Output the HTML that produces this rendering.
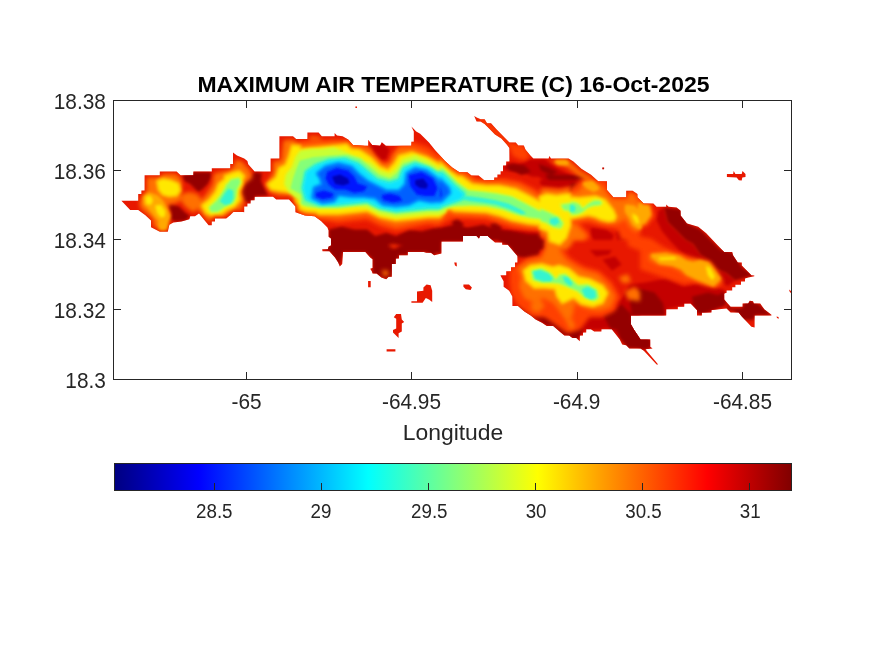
<!DOCTYPE html>
<html lang="en"><head><meta charset="utf-8"><title>Maximum Air Temperature</title>
<style>html,body{margin:0;padding:0;background:#fff}svg{display:block}text{font-family:"Liberation Sans",sans-serif;fill:#262626}</style></head><body>
<svg width="875" height="656" viewBox="0 0 875 656">
<rect width="875" height="656" fill="#fff"/>
<defs>
<linearGradient id="jet" x1="0" x2="1" y1="0" y2="0"><stop offset="0.0000" stop-color="#000080"/><stop offset="0.0312" stop-color="#00009f"/><stop offset="0.0625" stop-color="#0000bf"/><stop offset="0.0938" stop-color="#0000df"/><stop offset="0.1250" stop-color="#0000ff"/><stop offset="0.1562" stop-color="#0020ff"/><stop offset="0.1875" stop-color="#0040ff"/><stop offset="0.2188" stop-color="#0060ff"/><stop offset="0.2500" stop-color="#0080ff"/><stop offset="0.2812" stop-color="#009fff"/><stop offset="0.3125" stop-color="#00bfff"/><stop offset="0.3438" stop-color="#00dfff"/><stop offset="0.3750" stop-color="#00ffff"/><stop offset="0.4062" stop-color="#20ffdf"/><stop offset="0.4375" stop-color="#40ffbf"/><stop offset="0.4688" stop-color="#60ff9f"/><stop offset="0.5000" stop-color="#80ff80"/><stop offset="0.5312" stop-color="#9fff60"/><stop offset="0.5625" stop-color="#bfff40"/><stop offset="0.5938" stop-color="#dfff20"/><stop offset="0.6250" stop-color="#ffff00"/><stop offset="0.6562" stop-color="#ffdf00"/><stop offset="0.6875" stop-color="#ffbf00"/><stop offset="0.7188" stop-color="#ff9f00"/><stop offset="0.7500" stop-color="#ff8000"/><stop offset="0.7812" stop-color="#ff6000"/><stop offset="0.8125" stop-color="#ff4000"/><stop offset="0.8438" stop-color="#ff2000"/><stop offset="0.8750" stop-color="#ff0000"/><stop offset="0.9062" stop-color="#df0000"/><stop offset="0.9375" stop-color="#bf0000"/><stop offset="0.9688" stop-color="#9f0000"/><stop offset="1.0000" stop-color="#800000"/></linearGradient>
<filter id="b1" x="100" y="90" width="700" height="300" filterUnits="userSpaceOnUse"><feGaussianBlur stdDeviation="1.2"/></filter>
<filter id="b2" x="100" y="90" width="700" height="300" filterUnits="userSpaceOnUse"><feGaussianBlur stdDeviation="1.6"/></filter>
<filter id="b3" x="100" y="90" width="700" height="300" filterUnits="userSpaceOnUse"><feGaussianBlur stdDeviation="2.0"/></filter>
<filter id="b4" x="100" y="90" width="700" height="300" filterUnits="userSpaceOnUse"><feGaussianBlur stdDeviation="2.5"/></filter>
<clipPath id="land">
<polygon points="121.4,200.8 138.2,200.8 138.2,193.9 141.4,193.9 141.4,190.4 144.6,190.4 144.6,175.2 159.8,175.2 159.8,171.5 176.6,171.5 180.6,175.2 193.4,175.2 193.4,171.5 211.8,171.5 211.8,168.3 230.2,168.3 230.2,164.0 233.4,164.0 233.0,164.2 233.0,152.5 237.0,155.4 244.2,158.6 247.4,161.0 248.2,164.2 254.6,171.4 270.6,171.4 270.6,158.6 279.4,158.6 279.4,136.2 293.0,136.2 296.2,139.1 307.4,139.1 307.4,132.5 318.6,132.5 321.8,136.2 334.6,136.2 334.6,133.0 337.0,135.4 342.6,136.2 348.2,139.4 353.0,145.0 365.0,145.8 368.2,145.8 368.2,139.7 372.2,145.0 380.2,145.8 381.8,142.3 385.8,145.8 411.4,145.8 411.4,141.8 413.8,141.8 413.8,131.4 411.4,126.6 416.2,131.4 420.2,133.8 429.0,142.6 435.4,150.6 445.0,161.0 452.2,167.4 459.4,172.2 467.4,172.2 471.4,175.4 478.6,175.4 484.2,180.2 494.2,180.0 494.2,177.6 497.4,177.6 497.4,174.4 500.6,174.4 500.6,171.2 503.0,171.2 503.0,165.6 506.2,165.6 506.2,161.6 509.4,161.6 509.4,148.0 507.0,144.8 501.4,138.4 495.0,134.4 489.4,128.8 484.6,124.0 480.6,121.6 476.6,121.6 474.2,116.0 476.6,117.6 480.6,119.2 484.6,119.2 487.0,123.2 491.0,123.2 496.6,129.6 503.0,136.0 509.4,142.4 515.8,142.4 518.2,145.6 523.8,145.6 525.4,149.6 530.2,155.2 533.4,158.4 548.6,158.4 549.4,156.0 551.0,158.4 568.6,158.4 573.4,161.6 581.4,168.8 587.8,172.8 591.0,174.8 598.2,181.2 607.0,181.2 607.0,190.0 613.4,197.2 626.2,197.2 626.2,190.8 632.6,190.8 637.4,194.0 637.4,197.2 643.8,203.6 653.4,203.6 656.6,206.8 666.2,206.8 666.2,204.4 668.6,206.8 676.6,207.6 680.6,210.8 680.6,215.6 687.0,223.6 698.2,226.8 706.2,233.2 717.8,245.6 724.2,252.0 732.2,252.0 733.0,255.2 737.8,262.4 741.8,262.4 741.8,265.6 748.2,272.0 751.4,275.2 754.3,275.5 754.3,276.3 748.2,277.6 745.0,278.4 745.0,281.6 741.0,281.6 741.0,284.8 735.4,284.8 735.4,287.2 732.2,287.2 732.2,290.4 726.6,290.4 726.6,292.8 724.2,293.6 724.2,299.6 730.6,306.8 742.6,306.8 742.6,303.6 748.2,303.6 749.8,300.7 753.0,301.2 753.8,303.6 760.2,303.6 764.2,309.2 771.4,314.8 771.4,315.6 754.6,315.6 754.6,327.6 751.4,326.8 741.8,316.4 738.6,312.4 736.2,312.4 730.6,312.4 726.6,308.4 711.4,310.0 711.4,312.4 701.8,312.4 701.8,315.6 697.0,315.6 697.0,310.0 690.6,303.6 684.2,303.6 684.2,306.8 677.8,306.8 677.8,309.2 665.0,309.2 666.2,309.2 666.2,315.6 631.0,315.6 631.0,324.4 634.2,330.0 637.4,334.8 640.6,339.6 650.2,339.6 650.2,346.8 652.6,348.4 645.4,349.2 658.2,364.4 656.6,364.4 643.8,350.8 640.6,348.4 629.4,348.4 626.2,345.2 622.2,344.4 619.8,339.6 611.8,329.2 601.4,329.2 601.4,331.6 594.2,331.6 591.0,329.2 586.2,329.2 586.2,332.4 583.0,332.4 583.0,335.6 579.8,335.6 579.8,341.2 576.4,338.0 572.4,338.0 569.2,335.6 564.4,335.6 559.6,331.6 553.2,326.0 546.8,326.0 542.0,322.8 535.6,319.6 530.8,315.6 524.4,311.6 518.0,306.0 512.4,306.0 512.4,296.4 509.2,290.8 503.6,286.8 503.6,281.2 500.4,275.6 501.4,275.2 506.2,275.2 506.2,271.2 511.0,271.2 511.0,267.2 515.0,267.2 515.0,262.4 517.4,262.4 517.4,256.0 507.8,244.8 502.2,244.8 502.2,242.4 495.0,242.4 487.8,236.0 479.8,236.0 479.0,238.4 476.6,236.0 463.0,236.0 463.0,241.6 441.4,241.6 441.4,253.6 434.2,255.2 431.0,252.8 423.8,252.8 426.2,252.0 407.8,252.0 407.8,255.2 399.0,255.2 399.0,258.4 395.8,258.4 395.8,264.0 391.8,264.0 391.8,276.8 388.6,276.8 386.2,279.2 381.4,277.6 376.6,273.6 372.6,273.6 371.8,271.2 370.2,268.8 372.6,268.0 372.6,259.2 370.2,257.6 365.4,252.0 343.0,252.0 342.2,264.0 339.8,266.4 338.2,262.4 335.0,257.6 329.4,251.2 322.5,251.2 322.2,249.3 327.8,249.3 328.6,246.4 331.0,245.6 331.0,238.4 328.6,236.8 328.6,230.4 327.4,227.4 321.0,221.0 314.6,216.2 305.0,215.4 295.4,212.2 295.4,206.6 289.0,199.4 276.2,199.4 273.0,196.7 254.6,196.7 254.6,200.2 250.6,200.2 250.6,203.4 247.4,203.4 247.4,206.6 244.2,206.6 244.2,212.2 243.0,212.0 233.4,212.0 230.2,215.2 226.2,218.4 215.0,218.4 215.0,221.6 211.8,221.6 211.8,225.3 208.6,225.3 199.0,213.6 195.0,216.3 190.2,216.3 189.4,219.2 181.4,221.6 173.4,222.4 169.4,224.8 167.8,231.7 159.8,231.7 151.0,227.2 151.0,220.5 145.4,215.2 138.2,209.9 130.2,209.9 121.4,200.8"/>
<polygon points="454.2,262.4 456.6,262.4 456.9,266.4 455.0,265.6"/>
<polygon points="368.1,281.1 370.7,281.1 370.7,287.2 368.1,287.2"/>
<polygon points="411.4,301.2 417.0,301.2 417.0,291.6 423.4,290.8 423.4,287.6 426.6,284.4 430.6,285.2 432.2,290.8 432.2,302.0 429.0,299.6 425.8,298.0 422.6,302.8 411.4,302.8"/>
<polygon points="463.4,284.4 469.0,284.4 471.9,287.6 470.6,290.0 465.8,289.2 463.4,286.8"/>
<polygon points="396.2,314.0 401.0,314.0 401.8,319.6 404.2,322.0 401.8,323.6 401.8,331.6 398.6,333.2 398.6,338.0 393.0,332.4 393.0,330.0 396.2,328.4 396.2,318.8 393.8,317.2"/>
<polygon points="386.6,349.2 395.4,349.2 395.4,351.6 386.6,351.6"/>
<polygon points="726.9,174.0 733.1,174.0 733.7,171.1 735.4,174.0 741.7,174.0 742.5,171.1 745.5,174.0 745.5,176.9 742.3,177.4 741.7,180.6 738.9,180.3 736.6,177.4 726.9,176.9"/>
<polygon points="602.3,167.5 604.1,167.5 604.1,169.3 602.3,169.3"/>
<polygon points="355.4,106.4 357.0,106.4 357.0,108.0 355.4,108.0"/>
<polygon points="789.0,289.5 791.0,291.0 791.0,293.0 789.8,292.0"/>
<polygon points="776.5,316.5 778.5,317.0 778.8,318.8 777.0,318.0"/>
</clipPath>
</defs>
<g clip-path="url(#land)">
<rect x="113" y="100" width="680" height="280" fill="#e81800"/>
<g fill="#c40600" filter="url(#b2)">
<path fill-rule="evenodd" d="M544.6,180.0 570.0,180.0 581.4,180.0 570.2,175.2 557.4,168.8 551.0,164.0 544.6,159.2 540.0,159.2 540.0,177.7Z"/>
<path fill-rule="evenodd" d="M640.0,348.9 645.4,349.2 650.2,346.8 650.2,339.6 640.6,339.6 640.0,338.6Z"/>
<path fill-rule="evenodd" d="M543.6,186.4 559.6,188.0 570.0,187.1 570.0,180.0 540.0,180.0 540.0,184.0Z"/>
<path fill-rule="evenodd" d="M640.0,320.0 640.0,302.8 624.8,301.2 612.0,307.6 602.4,310.8 589.6,314.0 596.0,320.4 599.2,328.4 610.4,328.4 626.4,342.8 640.0,347.6Z"/>
<path fill-rule="evenodd" d="M621.6,264.4 615.2,256.4 602.4,259.6 612.0,270.8Z"/>
<path fill-rule="evenodd" d="M608.8,254.8 612.0,250.0 589.6,250.0 596.0,256.4Z"/>
<path fill-rule="evenodd" d="M389.6,149.6 383.2,143.2 368.8,144.8 373.6,154.4 380.0,160.8 386.4,159.2Z"/>
<path fill-rule="evenodd" d="M440.0,227.9 440.0,240.0 540.0,240.0 540.0,231.0Z"/>
<path fill-rule="evenodd" d="M593.8,240.0 612.1,240.0 613.9,234.9 606.6,229.4 591.0,227.5 590.1,234.9Z"/>
<path fill-rule="evenodd" d="M624.9,240.0 626.7,234.9 623.0,229.4 615.7,231.2 617.5,240.0Z"/>
<path fill-rule="evenodd" d="M656.5,220.1 661.9,231.1 671.1,242.1 680.2,251.2 689.4,258.5 700.3,267.7 709.5,273.1 718.6,280.5 727.8,285.9 735.1,280.5 725.9,273.1 716.8,269.5 709.5,260.3 700.3,254.9 693.0,243.9 685.7,240.2 676.6,231.1 667.4,221.9 663.8,207.3 658.3,211.0Z"/>
<path fill-rule="evenodd" d="M640.0,315.2 665.6,315.2 665.6,309.7 658.3,306.1 651.0,295.1 640.0,287.8Z"/>
<path fill-rule="evenodd" d="M667.4,298.7 676.6,304.2 687.5,302.4 680.2,291.4 667.4,287.8Z"/>
<polygon points="503.0,167.2 510.2,162.4 519.0,164.0 530.2,159.2 544.6,159.2 551.0,164.0 557.4,168.8 570.2,175.2 581.4,180.0 587.8,184.8 583.0,189.6 567.0,183.2 554.2,181.6 544.6,180.0 538.2,176.8 531.8,176.8 525.4,173.6 519.0,172.0 511.0,170.4 504.6,170.4"/>
<polygon points="607.3,307.0 621.7,298.8 629.9,284.4 646.4,282.3 667.0,278.2 683.4,286.5 704.0,282.3 724.6,290.6 724.6,305.0 712.2,311.1 701.9,315.3 695.8,311.1 691.7,303.9 667.0,309.1 664.9,315.3 632.0,315.3 632.0,323.5 621.7,331.7"/>
<polygon points="560.0,307.0 572.3,311.1 584.7,305.0 601.1,311.1 611.4,321.4 601.1,329.7 584.7,329.7 578.5,337.9 560.0,331.7"/>
</g>
<g fill="#940000" filter="url(#b2)">
<path fill-rule="evenodd" d="M211.0,177.6 211.0,172.0 193.4,172.0 182.2,175.2 183.8,180.8 190.2,184.0 195.0,188.8 198.2,192.0 202.2,189.6 207.8,184.0Z"/>
<path fill-rule="evenodd" d="M185.4,212.8 179.0,206.4 169.4,203.2 167.8,208.0 171.0,212.8 170.2,219.2 175.8,221.6 185.4,220.8 190.2,216.0Z"/>
<path fill-rule="evenodd" d="M243.0,188.8 243.0,198.4 247.8,202.4 251.0,201.6 255.0,198.4 255.0,184.0 251.0,184.0Z"/>
<path fill-rule="evenodd" d="M261.8,173.0 254.6,172.2 245.8,181.0 239.4,189.0 244.2,201.8 250.6,200.2 254.6,196.2 268.2,195.4 265.0,189.0 261.0,181.0Z"/>
<path fill-rule="evenodd" d="M541.4,170.4 551.0,175.2 557.4,172.0 547.8,167.2 540.0,164.6 540.0,167.6Z"/>
<path fill-rule="evenodd" d="M640.0,348.9 645.4,349.2 650.2,346.8 650.2,339.6 640.6,339.6 640.0,338.6Z"/>
<path fill-rule="evenodd" d="M435.0,253.1 441.4,253.6 441.4,241.6 463.0,241.6 463.0,240.0 440.0,240.0 440.0,245.0 435.0,245.0Z"/>
<path fill-rule="evenodd" d="M589.6,175.0 544.8,175.0 548.8,180.0 570.0,180.0 581.6,180.0 583.2,179.8Z"/>
<path fill-rule="evenodd" d="M545.2,240.8 540.0,237.8 540.0,240.0 497.1,240.0 498.8,240.8 510.0,247.2 512.3,250.0 543.9,250.0Z"/>
<path fill-rule="evenodd" d="M517.6,256.4 527.2,258.0 538.4,256.4 540.0,250.0 511.2,250.0Z"/>
<path fill-rule="evenodd" d="M568.8,335.6 572.0,338.0 578.4,341.2 578.4,336.4 583.2,330.0 575.2,325.2 565.6,322.0 554.4,317.2 543.2,314.0 532.0,312.4 524.0,304.4 517.6,306.0 524.0,310.8 535.2,318.8 546.4,325.2 552.8,326.0 564.0,335.6Z"/>
<path fill-rule="evenodd" d="M631.2,320.4 631.2,314.0 621.6,304.4 612.0,310.8 602.4,314.0 610.4,328.4 618.4,330.0 626.4,342.8 640.0,347.6 640.0,330.0Z"/>
<path fill-rule="evenodd" d="M339.8,266.4 343.0,252.0 365.4,252.0 372.6,259.2 372.6,273.6 386.2,279.2 391.8,276.8 395.8,264.0 399.0,255.2 407.8,255.2 407.8,252.0 426.2,252.0 435.0,256.8 435.0,245.0 403.3,245.0 394.2,248.0 388.1,245.0 330.9,245.0 331.0,245.6 322.2,249.3 329.4,251.2Z"/>
<path fill-rule="evenodd" d="M440.0,226.4 421.6,231.2 408.8,229.6 396.0,236.0 386.4,232.8 375.2,236.0 367.2,229.6 354.4,229.6 341.6,226.4 328.8,229.6 328.8,245.0 440.0,245.0 440.0,240.0Z"/>
<path fill-rule="evenodd" d="M528.0,234.2 512.0,231.0 496.0,229.4 483.2,224.6 467.2,227.8 454.4,224.6 441.6,227.8 440.0,228.2 440.0,240.0 540.0,240.0 540.0,234.2Z"/>
<path fill-rule="evenodd" d="M457.6,218.2 451.2,221.4 457.6,231.0 464.0,224.6Z"/>
<path fill-rule="evenodd" d="M496.0,221.4 489.6,224.6 496.0,234.2 502.4,227.8Z"/>
<path fill-rule="evenodd" d="M531.2,171.8 524.8,165.4 512.0,163.8 512.0,170.2 521.6,175.0Z"/>
<path fill-rule="evenodd" d="M577.3,191.9 580.1,187.3 575.5,182.7 570.0,183.7 570.0,192.8Z"/>
<path fill-rule="evenodd" d="M667.4,221.9 676.6,231.1 685.7,240.2 693.0,243.9 700.3,254.9 709.5,260.3 716.8,269.5 725.9,273.1 735.1,280.5 742.4,278.6 753.4,275.0 742.4,267.7 733.3,253.0 720.5,249.4 700.3,229.3 687.5,223.8 680.2,209.1 663.8,207.3Z"/>
<path fill-rule="evenodd" d="M700.3,309.7 724.1,306.1 725.9,302.4 724.1,291.4 718.6,295.1 709.5,298.7 700.3,298.7 691.2,304.2Z"/>
<path fill-rule="evenodd" d="M727.8,309.7 735.1,311.5 742.4,320.0 753.4,320.0 755.2,315.2 771.7,315.2 758.9,304.2 749.7,300.6 744.2,302.4 742.4,307.9 731.4,307.9 725.9,302.4Z"/>
<polygon points="506.2,165.6 512.6,164.0 522.2,167.2 525.4,172.0 519.0,172.8 509.4,170.4"/>
<polygon points="538.2,164.0 547.8,167.2 557.4,172.0 551.0,175.2 541.4,170.4"/>
<polygon points="638.2,288.5 654.6,292.6 662.9,302.9 664.9,315.3 632.0,315.3 629.9,300.9"/>
<polygon points="691.7,296.7 708.1,292.6 724.6,296.7 724.6,305.0 701.9,314.2 695.8,311.1"/>
<polygon points="611.4,311.1 629.9,315.3 632.0,323.5 650.5,339.9 650.5,348.2 627.9,348.2 619.7,337.9"/>
<polygon points="601.7,166.9 604.7,166.9 604.7,169.9 601.7,169.9"/>
</g>
<g fill="#ff4000" filter="url(#b3)">
<path fill-rule="evenodd" d="M474.2,116.0 480.6,121.6 495.0,134.4 495.6,135.0 502.0,135.0 496.6,129.6 484.6,119.2Z"/>
<path fill-rule="evenodd" d="M586.5,180.0 595.2,180.0 591.0,177.2 581.4,172.4Z"/>
<path fill-rule="evenodd" d="M627.8,240.0 627.8,246.0 635.8,249.2 637.1,250.0 640.0,250.0 640.0,240.0Z"/>
<path fill-rule="evenodd" d="M628.8,240.0 631.6,242.8 640.0,244.0 640.0,240.0Z"/>
<path fill-rule="evenodd" d="M556.0,325.2 567.2,333.2 580.0,330.0 589.6,317.2 602.4,317.2 615.2,310.8 620.0,296.4 612.0,282.0 599.2,270.8 583.2,266.0 570.4,258.0 564.0,250.0 543.2,250.0 541.6,254.8 527.2,258.0 519.2,264.4 509.6,269.2 509.6,282.0 511.2,294.8 519.2,307.6 532.0,317.2 544.8,317.2Z"/>
<path fill-rule="evenodd" d="M300.0,200.0 295.0,200.0 295.0,208.8 300.0,212.6Z"/>
<path fill-rule="evenodd" d="M394.2,248.0 398.0,245.0 388.1,245.0Z"/>
<path fill-rule="evenodd" d="M338.4,223.2 352.8,221.6 367.2,220.0 380.0,226.4 396.0,231.2 412.0,228.0 428.0,224.8 440.0,226.4 440.0,156.0 428.0,146.4 412.0,141.6 399.2,144.8 394.4,152.8 390.4,163.2 383.2,165.6 376.8,159.2 370.4,151.2 364.0,140.0 300.0,140.0 300.0,215.2 306.4,218.4 319.2,220.0Z"/>
<path fill-rule="evenodd" d="M470.4,219.0 486.4,219.8 499.2,223.8 512.0,227.8 528.0,230.2 540.0,231.0 540.0,192.6 532.8,187.8 520.0,181.4 504.0,178.2 491.2,179.0 476.8,178.2 467.2,171.8 454.4,159.0 440.0,148.9 440.0,224.0 441.6,223.8 454.4,218.2Z"/>
<path fill-rule="evenodd" d="M588.3,223.0 606.6,227.5 617.5,229.4 621.2,240.0 640.0,240.0 640.0,200.0 645.4,200.0 637.7,193.7 626.7,191.0 626.7,196.5 613.9,197.4 608.4,191.0 606.6,180.0 581.0,180.0 570.0,189.1 570.0,223.9Z"/>
<path fill-rule="evenodd" d="M588.3,240.0 590.1,234.9 579.1,223.0 570.0,223.0 570.0,240.0Z"/>
<path fill-rule="evenodd" d="M640.0,269.5 651.0,273.1 661.9,276.8 672.9,280.5 683.9,284.1 694.9,282.3 705.8,285.9 716.8,287.8 724.1,282.3 713.1,273.1 702.2,262.2 691.2,256.7 676.6,253.0 661.9,245.7 651.0,238.4 640.0,236.6Z"/>
<path fill-rule="evenodd" d="M640.0,227.4 647.3,225.6 654.6,216.5 651.0,203.7 640.0,200.0Z"/>
<polygon points="474.2,116.0 484.6,119.2 496.6,129.6 509.4,142.4 523.8,145.6 530.2,155.2 525.4,160.8 519.0,159.2 512.6,156.0 509.4,148.0 495.0,134.4 480.6,121.6"/>
</g>
<g fill="#ff7000" filter="url(#b3)">
<path fill-rule="evenodd" d="M169.4,212.8 167.8,204.8 175.8,203.2 182.2,200.0 180.6,193.6 182.2,185.6 180.6,177.6 180.3,177.4 180.2,177.4 180.0,177.3 179.8,177.2 179.6,177.2 179.4,177.1 179.3,177.0 179.1,176.8 175.7,173.7 162.0,173.7 162.0,175.2 162.0,175.4 162.0,175.6 161.9,175.8 161.8,176.0 161.7,176.2 161.6,176.4 161.5,176.6 161.4,176.8 161.2,176.9 161.0,177.0 160.8,177.1 160.6,177.2 160.4,177.3 160.2,177.4 160.0,177.4 159.8,177.4 146.9,177.4 146.8,177.4 146.8,190.4 146.8,190.6 146.8,190.8 146.7,191.0 146.6,191.2 146.5,191.4 146.4,191.6 146.3,191.8 146.2,192.0 146.0,192.1 145.8,192.2 145.6,192.3 145.4,192.4 145.2,192.5 145.0,192.6 144.8,192.6 144.8,192.6 143.6,193.8 143.6,193.9 143.6,194.1 143.6,194.3 143.5,194.6 143.4,194.8 143.3,195.0 143.2,195.1 143.1,195.3 143.0,195.5 142.8,195.6 142.6,195.7 142.4,195.9 142.2,196.0 142.0,196.0 141.8,196.1 141.8,196.1 140.4,199.0 140.4,200.8 140.4,201.0 140.4,201.2 140.3,201.4 140.2,201.6 140.1,201.8 140.0,202.0 139.9,202.2 139.8,202.4 139.6,202.5 139.4,202.6 139.2,202.7 139.2,202.7 140.6,208.0 144.2,211.6 146.7,213.4 146.9,213.6 152.5,218.9 152.7,219.0 152.8,219.2 152.9,219.4 153.0,219.6 153.1,219.8 153.2,220.0 153.2,220.3 153.2,220.5 153.2,225.9 160.3,229.5 166.1,229.5 167.3,224.3 167.3,224.1 167.4,223.9 167.5,223.7 167.6,223.5 167.8,223.3 167.9,223.2 168.1,223.0 168.3,222.9 169.4,222.2Z"/>
<path fill-rule="evenodd" d="M182.2,193.6 182.2,203.2 187.0,208.0 193.4,212.8 198.2,208.0 201.4,200.0 198.2,194.4 190.2,192.0Z"/>
<path fill-rule="evenodd" d="M242.0,208.8 242.0,206.6 242.0,206.4 242.0,206.2 242.1,206.0 242.2,205.8 242.3,205.6 242.4,205.4 242.5,205.2 242.6,205.0 242.8,204.9 243.0,204.8 243.2,204.7 243.4,204.6 243.5,204.5 244.6,201.6 241.4,192.0 244.6,184.0 252.6,177.6 249.4,169.6 243.0,163.2 235.1,164.5 235.1,164.6 235.0,164.8 234.9,165.0 234.8,165.2 234.7,165.4 234.6,165.6 234.4,165.7 234.2,165.8 234.0,165.9 233.8,166.0 233.6,166.1 233.4,166.2 233.2,166.2 233.0,166.2 232.5,166.2 232.4,166.3 232.4,168.3 232.4,168.5 232.4,168.7 232.3,169.0 232.2,169.2 232.1,169.4 232.0,169.5 231.9,169.7 231.8,169.9 231.6,170.0 231.4,170.1 231.2,170.3 231.0,170.4 230.8,170.4 230.6,170.5 230.4,170.5 230.2,170.5 226.5,170.5 214.2,173.6 212.6,184.0 207.8,192.0 201.4,200.0 197.4,208.0 199.6,211.5 199.6,211.5 199.8,211.6 200.0,211.7 200.2,211.8 200.4,211.9 200.6,212.0 200.7,212.2 209.6,223.0 209.6,221.6 209.6,221.4 209.6,221.2 209.7,221.0 209.8,220.8 209.9,220.6 210.0,220.4 210.1,220.2 210.2,220.0 210.4,219.9 210.6,219.8 210.8,219.7 211.0,219.6 211.2,219.5 211.4,219.4 211.6,219.4 211.8,219.4 212.8,219.4 212.8,218.4 212.8,218.2 212.8,218.0 212.9,217.8 213.0,217.6 213.1,217.4 213.2,217.2 213.3,217.0 213.4,216.8 213.6,216.7 213.8,216.6 214.0,216.5 214.2,216.4 214.4,216.3 214.6,216.2 214.8,216.2 215.0,216.2 225.4,216.2 228.7,213.6 231.8,210.4 232.0,210.3 232.2,210.2 232.4,210.1 232.6,210.0 232.8,209.9 233.0,209.8 233.2,209.8 233.4,209.8 241.6,209.8Z"/>
<path fill-rule="evenodd" d="M297.0,142.6 295.6,141.2 295.5,141.2 295.3,141.1 295.1,141.0 294.9,140.9 294.7,140.7 293.3,139.4 283.4,140.2 281.6,155.2 281.6,158.6 281.6,158.8 281.6,159.0 281.5,159.2 281.4,159.4 281.3,159.6 281.2,159.8 281.1,160.0 281.0,160.1 281.0,160.2 280.9,160.2 280.8,160.3 280.6,160.4 280.4,160.5 280.2,160.6 280.0,160.7 279.8,160.8 279.6,160.8 279.4,160.8 278.0,160.8 273.0,161.8 273.0,173.0 265.0,184.2 269.8,192.2 277.8,195.4 289.0,195.4 295.0,200.2 295.0,200.0 300.0,200.0 300.0,142.4Z"/>
<path fill-rule="evenodd" d="M325.4,140.0 339.8,140.0 333.8,139.4Z"/>
<path fill-rule="evenodd" d="M319.4,137.0 309.8,136.2 309.6,136.9 309.6,139.1 309.6,139.3 309.6,139.5 309.5,139.7 309.4,139.9 309.4,140.0 322.4,140.0Z"/>
<path fill-rule="evenodd" d="M245.8,166.6 242.6,161.8 235.4,159.4 235.2,159.9 235.2,164.0 235.2,164.2 235.2,164.4 235.1,164.6 235.0,164.8 234.9,165.0 234.8,165.2 234.7,165.4 234.6,165.6 234.4,165.7 234.2,165.8 234.0,165.9 233.8,166.0 233.6,166.1 233.4,166.2 233.2,166.2 233.0,166.2 232.8,166.2 232.4,167.2 232.4,168.3 232.4,168.5 232.4,168.7 232.3,169.0 232.2,169.2 232.1,169.4 232.0,169.5 231.9,169.7 231.8,169.9 231.6,170.0 231.4,170.1 231.2,170.3 231.0,170.4 230.8,170.4 230.6,170.5 230.4,170.5 230.2,170.5 230.0,170.5 225.0,173.0 225.0,211.4 229.8,209.8 239.4,206.6 242.6,197.0 241.0,187.4 245.8,179.4 250.6,173.0Z"/>
<path fill-rule="evenodd" d="M567.0,167.2 573.4,172.0 579.8,176.8 585.1,180.0 593.5,180.0 589.7,176.6 586.6,174.7 580.2,170.7 580.1,170.6 579.9,170.4 572.0,163.3 567.9,160.6 551.0,160.6 550.8,160.6 550.6,160.6 550.5,160.5 551.0,161.6 559.0,164.0Z"/>
<path fill-rule="evenodd" d="M572.4,244.0 573.0,240.0 570.0,240.0 570.0,187.0 559.6,189.6 543.6,188.0 540.0,189.8 540.0,235.4 545.2,237.6 545.2,250.0 566.4,250.0Z"/>
<path fill-rule="evenodd" d="M559.2,310.8 565.6,320.4 572.0,317.2 575.2,302.8 580.0,306.0 588.0,309.2 599.2,310.8 610.4,307.6 615.2,296.4 608.8,285.2 597.6,274.0 584.8,270.8 575.2,266.0 565.6,259.6 559.2,250.0 544.8,250.0 541.6,258.0 527.2,261.2 517.6,267.6 520.8,277.2 519.2,286.8 524.0,298.0 533.6,302.8 543.2,298.0 552.8,302.8Z"/>
<path fill-rule="evenodd" d="M538.4,312.4 544.8,306.0 540.0,299.6 530.4,304.4 532.0,310.8Z"/>
<path fill-rule="evenodd" d="M572.0,318.8 565.6,320.4 570.4,330.0 575.2,326.8Z"/>
<path fill-rule="evenodd" d="M640.0,301.2 640.0,291.6 634.4,286.8 624.8,291.6 628.0,299.6Z"/>
<path fill-rule="evenodd" d="M628.0,274.0 618.4,277.2 623.2,283.6 631.2,282.0Z"/>
<path fill-rule="evenodd" d="M295.0,200.0 295.0,202.8 297.0,205.1 297.2,205.3 297.3,205.5 297.4,205.7 297.5,205.9 297.6,206.1 297.6,206.4 297.6,206.6 297.6,208.3 300.0,210.2 300.0,200.0Z"/>
<path fill-rule="evenodd" d="M387.8,270.4 381.4,270.4 383.9,276.1 385.6,276.7 387.0,275.2 387.2,275.1 387.4,275.0 387.6,274.9 387.8,274.8 388.0,274.7 388.2,274.6 388.4,274.6 388.6,274.6 389.2,274.6Z"/>
<path fill-rule="evenodd" d="M352.8,216.8 367.2,215.2 380.0,221.6 396.0,226.4 412.0,223.2 428.0,220.8 440.0,221.6 440.0,162.4 426.4,152.8 412.8,147.5 412.6,147.6 412.4,147.7 412.2,147.8 412.0,147.9 411.8,148.0 411.6,148.0 411.4,148.0 399.2,148.0 392.8,154.4 389.6,162.4 383.2,164.0 376.8,157.6 370.4,149.6 369.7,147.4 369.6,147.5 369.4,147.6 369.2,147.7 369.0,147.8 368.8,147.9 368.6,148.0 368.4,148.0 368.2,148.0 365.0,148.0 364.9,148.0 352.9,147.2 352.6,147.2 352.4,147.1 352.2,147.1 352.0,147.0 351.8,146.9 351.6,146.7 351.5,146.6 351.3,146.4 347.2,141.6 332.0,142.4 316.0,143.2 300.0,144.8 300.0,211.4 305.4,213.2 314.8,214.0 315.0,214.0 315.2,214.1 315.4,214.1 315.6,214.2 315.8,214.3 315.9,214.4 319.0,216.8 319.2,216.8 338.4,218.4Z"/>
<path fill-rule="evenodd" d="M470.4,215.0 486.4,215.8 499.2,219.8 512.0,223.8 528.0,227.0 540.0,227.8 540.0,197.4 531.2,191.0 518.4,184.6 502.4,182.2 494.2,182.2 484.2,182.4 484.0,182.4 483.8,182.4 483.6,182.3 483.4,182.2 483.1,182.1 482.9,182.0 482.8,181.9 482.7,181.8 475.2,181.4 465.4,174.4 459.4,174.4 459.2,174.4 459.0,174.4 458.8,174.3 458.6,174.2 458.4,174.1 458.2,174.0 451.0,169.2 450.7,169.0 443.5,162.6 443.4,162.5 440.0,158.8 440.0,220.0 441.6,219.8 448.0,211.8 454.4,214.2Z"/>
<path fill-rule="evenodd" d="M588.3,218.4 593.8,220.2 601.1,223.0 608.4,223.9 615.7,223.9 621.2,222.1 624.9,218.4 628.5,225.7 634.0,231.2 640.0,231.2 640.0,202.9 635.8,198.8 635.7,198.6 635.6,198.4 635.5,198.2 635.4,198.0 635.3,197.8 635.2,197.6 635.2,197.4 635.2,197.2 635.2,195.2 631.9,193.0 628.4,193.0 628.4,197.2 628.4,197.4 628.4,197.6 628.3,197.8 628.2,198.0 628.1,198.2 628.0,198.4 627.9,198.6 627.8,198.8 627.6,198.9 627.4,199.0 627.2,199.1 627.0,199.2 626.8,199.3 626.6,199.4 626.4,199.4 626.2,199.4 613.4,199.4 613.2,199.4 613.0,199.4 612.8,199.3 612.6,199.2 612.4,199.2 612.2,199.1 612.1,198.9 611.9,198.8 611.8,198.7 605.4,191.5 605.2,191.3 605.1,191.1 605.0,190.9 604.9,190.7 604.8,190.5 604.8,190.2 604.8,190.0 604.8,188.8 600.2,185.5 592.9,180.9 583.7,182.7 579.1,191.0 570.0,193.7 570.0,221.1 579.1,220.2Z"/>
<path fill-rule="evenodd" d="M586.5,234.9 581.0,229.4 575.5,223.9 570.0,223.0 570.0,240.0 584.6,240.0Z"/>
<path fill-rule="evenodd" d="M658.3,264.9 671.1,266.7 679.3,270.4 685.7,275.9 693.0,279.5 702.2,283.2 715.0,286.9 722.3,279.5 716.8,270.4 710.4,262.2 700.3,259.4 687.5,259.4 680.2,254.9 665.6,252.1 649.1,253.9 649.1,260.3Z"/>
<path fill-rule="evenodd" d="M645.5,224.7 651.9,215.5 649.8,205.8 643.8,205.8 643.6,205.8 643.4,205.8 643.2,205.7 643.0,205.6 642.8,205.5 642.6,205.4 642.4,205.3 642.2,205.2 640.0,202.9 640.0,225.6Z"/>
</g>
<g fill="#ffa800" stroke="#ffa800" stroke-width="4.0" stroke-linejoin="round" filter="url(#b2)">
<path fill-rule="evenodd" d="M161.4,201.6 156.6,196.8 149.4,194.4 145.4,197.6 145.4,203.2 150.2,208.0 155.0,214.4 160.6,220.8 166.2,222.4 168.6,216.0 164.6,208.0Z"/>
<path fill-rule="evenodd" d="M159.8,224.0 160.9,228.3 165.1,228.3 166.1,224.0 166.2,223.7 166.2,223.5 166.2,223.2Z"/>
<path fill-rule="evenodd" d="M559.0,163.2 567.0,163.2 565.6,161.8 556.6,161.8Z"/>
<path fill-rule="evenodd" d="M634.0,223.9 639.5,227.5 640.0,226.5 640.0,216.1 639.5,214.7 634.0,207.4 626.7,206.5 626.7,211.1 630.3,216.6Z"/>
<path fill-rule="evenodd" d="M597.4,188.2 591.9,182.7 584.6,183.7 588.3,187.3 593.8,190.1Z"/>
<path fill-rule="evenodd" d="M672.9,264.0 682.1,267.7 687.5,273.1 694.9,276.8 704.0,280.5 713.1,284.1 718.6,278.6 713.1,271.3 707.7,264.0 700.3,262.2 693.0,264.0 685.7,262.2 678.4,257.6 665.6,254.9 652.8,255.8 660.1,262.2Z"/>
<path fill-rule="evenodd" d="M643.7,221.9 649.1,214.6 647.6,207.0 643.8,207.0 643.5,207.0 643.1,206.9 642.8,206.9 642.5,206.7 642.2,206.6 641.9,206.4 641.6,206.2 641.4,206.0 640.0,204.6 640.0,221.9Z"/>
<path fill-rule="evenodd" d="M163.0,179.2 157.4,181.6 159.0,189.6 163.0,194.4 169.4,196.0 176.6,195.2 179.8,190.4 178.2,184.0 171.0,180.8Z"/>
<path fill-rule="evenodd" d="M153.1,199.7 149.9,195.2 145.4,197.1 146.2,204.0 151.0,205.1Z"/>
<path fill-rule="evenodd" d="M160.6,217.6 164.9,216.8 165.4,210.9 161.1,204.8 155.0,205.6 156.9,212.8Z"/>
<path fill-rule="evenodd" d="M241.4,184.0 243.0,176.0 236.6,174.4 227.0,177.6 219.0,184.0 215.8,192.0 209.4,200.0 202.2,205.6 206.2,212.8 211.7,214.9 212.0,214.7 212.3,214.4 212.7,214.2 213.2,214.0 213.6,213.8 214.1,213.7 214.5,213.6 215.0,213.6 221.7,213.6 227.0,209.6 231.3,207.7 231.6,207.6 231.6,207.5 234.2,206.4 239.8,200.0 238.2,192.0Z"/>
<path fill-rule="evenodd" d="M285.8,165.0 279.4,168.2 276.2,177.8 268.2,184.2 271.4,189.0 279.4,190.6 292.2,192.2 300.0,200.0 300.0,146.6 292.2,145.8 289.0,157.0Z"/>
<path fill-rule="evenodd" d="M225.0,176.2 225.0,206.6 234.6,203.4 237.8,193.8 239.4,184.2 244.2,176.2 239.4,171.4 233.0,173.0Z"/>
<path fill-rule="evenodd" d="M559.6,244.0 566.0,237.6 569.2,228.0 570.0,226.0 570.0,194.8 566.0,194.4 556.4,196.0 546.8,194.4 540.0,197.1 540.0,227.9 540.4,228.0 548.4,231.2 550.0,240.8Z"/>
<path fill-rule="evenodd" d="M567.2,300.4 573.6,297.2 581.6,303.6 592.8,306.0 602.4,302.8 607.2,293.2 602.4,286.0 589.6,279.6 578.4,277.2 568.8,269.2 559.2,266.0 552.8,267.6 541.6,264.4 530.4,266.0 524.0,270.8 526.4,280.4 534.4,287.6 544.8,287.6 555.2,288.4 557.6,296.4 562.4,302.8Z"/>
<path fill-rule="evenodd" d="M296.0,200.0 299.0,203.4 299.3,203.8 299.6,204.2 299.8,204.7 300.0,205.1 300.0,205.2 300.0,200.0Z"/>
<path fill-rule="evenodd" d="M352.8,212.0 367.2,210.4 380.0,216.8 396.0,220.0 412.0,218.4 428.0,216.8 440.0,216.8 440.0,165.0 426.4,157.6 412.0,152.8 399.2,156.0 394.4,164.0 388.0,170.4 380.0,167.2 370.4,157.6 360.8,151.2 358.8,150.2 352.7,149.8 352.2,149.7 351.7,149.6 351.3,149.5 350.9,149.3 350.4,149.1 350.0,148.8 349.7,148.5 349.4,148.1 346.6,144.9 332.0,146.4 316.0,148.0 300.0,149.6 300.0,205.2 300.1,205.6 300.2,206.1 300.2,206.6 300.2,208.7 306.0,210.7 315.0,211.4 315.4,211.5 315.9,211.6 316.3,211.7 316.7,211.9 317.1,212.1 317.5,212.4 319.1,213.6 319.2,213.6 338.4,213.6Z"/>
<path fill-rule="evenodd" d="M470.4,211.0 486.4,211.8 499.2,215.0 512.0,219.8 528.0,223.0 540.0,224.6 540.0,202.2 528.0,195.8 515.2,189.4 499.2,186.2 486.4,186.2 472.0,184.6 461.4,177.0 459.4,177.0 458.9,177.0 458.5,176.9 458.0,176.8 457.6,176.6 457.1,176.4 456.7,176.2 449.5,171.4 449.0,171.0 441.8,164.6 441.5,164.3 440.0,162.6 440.0,215.2 441.6,215.0 448.0,207.0 454.4,210.2Z"/>
<path fill-rule="evenodd" d="M588.3,214.7 595.6,216.6 601.1,219.3 608.4,221.1 613.9,220.2 615.7,216.6 613.0,210.2 609.3,205.6 604.7,200.1 595.6,196.5 586.5,197.4 579.1,198.3 570.0,197.4 570.0,218.4 579.1,216.6Z"/>
<path fill-rule="evenodd" d="M639.5,223.0 637.7,216.6 632.2,212.9 633.1,218.4 636.7,223.9Z"/>
<path fill-rule="evenodd" d="M676.6,259.4 674.7,257.1 658.3,257.6 660.1,260.3Z"/>
<path fill-rule="evenodd" d="M712.2,280.5 715.0,276.8 710.4,267.7 705.8,265.8 707.7,275.0Z"/>
</g>
<g fill="#ffe800" filter="url(#b2)">
<path fill-rule="evenodd" d="M163.0,179.2 157.4,181.6 159.0,189.6 163.0,194.4 169.4,196.0 176.6,195.2 179.8,190.4 178.2,184.0 171.0,180.8Z"/>
<path fill-rule="evenodd" d="M153.1,199.7 149.9,195.2 145.4,197.1 146.2,204.0 151.0,205.1Z"/>
<path fill-rule="evenodd" d="M160.6,217.6 164.9,216.8 165.4,210.9 161.1,204.8 155.0,205.6 156.9,212.8Z"/>
<path fill-rule="evenodd" d="M241.4,184.0 243.0,176.0 236.6,174.4 227.0,177.6 219.0,184.0 215.8,192.0 209.4,200.0 202.2,205.6 206.2,212.8 211.7,214.9 212.0,214.7 212.3,214.4 212.7,214.2 213.2,214.0 213.6,213.8 214.1,213.7 214.5,213.6 215.0,213.6 221.7,213.6 227.0,209.6 231.3,207.7 231.6,207.6 231.6,207.5 234.2,206.4 239.8,200.0 238.2,192.0Z"/>
<path fill-rule="evenodd" d="M285.8,165.0 279.4,168.2 276.2,177.8 268.2,184.2 271.4,189.0 279.4,190.6 292.2,192.2 300.0,200.0 300.0,146.6 292.2,145.8 289.0,157.0Z"/>
<path fill-rule="evenodd" d="M225.0,176.2 225.0,206.6 234.6,203.4 237.8,193.8 239.4,184.2 244.2,176.2 239.4,171.4 233.0,173.0Z"/>
<path fill-rule="evenodd" d="M559.6,244.0 566.0,237.6 569.2,228.0 570.0,226.0 570.0,194.8 566.0,194.4 556.4,196.0 546.8,194.4 540.0,197.1 540.0,227.9 540.4,228.0 548.4,231.2 550.0,240.8Z"/>
<path fill-rule="evenodd" d="M567.2,300.4 573.6,297.2 581.6,303.6 592.8,306.0 602.4,302.8 607.2,293.2 602.4,286.0 589.6,279.6 578.4,277.2 568.8,269.2 559.2,266.0 552.8,267.6 541.6,264.4 530.4,266.0 524.0,270.8 526.4,280.4 534.4,287.6 544.8,287.6 555.2,288.4 557.6,296.4 562.4,302.8Z"/>
<path fill-rule="evenodd" d="M296.0,200.0 299.0,203.4 299.3,203.8 299.6,204.2 299.8,204.7 300.0,205.1 300.0,205.2 300.0,200.0Z"/>
<path fill-rule="evenodd" d="M352.8,212.0 367.2,210.4 380.0,216.8 396.0,220.0 412.0,218.4 428.0,216.8 440.0,216.8 440.0,165.0 426.4,157.6 412.0,152.8 399.2,156.0 394.4,164.0 388.0,170.4 380.0,167.2 370.4,157.6 360.8,151.2 358.8,150.2 352.7,149.8 352.2,149.7 351.7,149.6 351.3,149.5 350.9,149.3 350.4,149.1 350.0,148.8 349.7,148.5 349.4,148.1 346.6,144.9 332.0,146.4 316.0,148.0 300.0,149.6 300.0,205.2 300.1,205.6 300.2,206.1 300.2,206.6 300.2,208.7 306.0,210.7 315.0,211.4 315.4,211.5 315.9,211.6 316.3,211.7 316.7,211.9 317.1,212.1 317.5,212.4 319.1,213.6 319.2,213.6 338.4,213.6Z"/>
<path fill-rule="evenodd" d="M470.4,211.0 486.4,211.8 499.2,215.0 512.0,219.8 528.0,223.0 540.0,224.6 540.0,202.2 528.0,195.8 515.2,189.4 499.2,186.2 486.4,186.2 472.0,184.6 461.4,177.0 459.4,177.0 458.9,177.0 458.5,176.9 458.0,176.8 457.6,176.6 457.1,176.4 456.7,176.2 449.5,171.4 449.0,171.0 441.8,164.6 441.5,164.3 440.0,162.6 440.0,215.2 441.6,215.0 448.0,207.0 454.4,210.2Z"/>
<path fill-rule="evenodd" d="M588.3,214.7 595.6,216.6 601.1,219.3 608.4,221.1 613.9,220.2 615.7,216.6 613.0,210.2 609.3,205.6 604.7,200.1 595.6,196.5 586.5,197.4 579.1,198.3 570.0,197.4 570.0,218.4 579.1,216.6Z"/>
<path fill-rule="evenodd" d="M639.5,223.0 637.7,216.6 632.2,212.9 633.1,218.4 636.7,223.9Z"/>
<path fill-rule="evenodd" d="M676.6,259.4 674.7,257.1 658.3,257.6 660.1,260.3Z"/>
<path fill-rule="evenodd" d="M712.2,280.5 715.0,276.8 710.4,267.7 705.8,265.8 707.7,275.0Z"/>
</g>
<g fill="#c8ff36" filter="url(#b2)">
<path fill-rule="evenodd" d="M300.0,200.4 300.0,204.8 306.4,207.2 319.2,208.8 338.4,208.8 352.8,207.2 356.1,206.8 367.2,208.0 380.0,214.4 396.0,217.6 412.0,216.0 428.0,214.4 440.0,214.4 446.0,212.0 446.0,209.1 454.4,207.0 470.4,206.2 486.4,207.0 502.4,210.2 515.2,215.0 528.0,218.2 540.0,219.8 540.0,221.7 545.2,223.2 553.2,228.0 561.2,229.6 564.4,223.2 559.6,216.8 550.0,212.0 540.0,207.7 540.0,210.2 524.8,202.2 512.0,195.8 496.0,192.6 483.2,191.0 468.8,189.4 457.6,181.4 446.4,170.2 440.0,165.1 440.0,168.8 428.0,160.8 415.2,155.2 402.4,159.2 396.0,168.8 389.6,173.6 380.0,170.4 370.4,162.4 365.0,161.0 364.7,160.9 360.8,157.6 351.7,154.8 346.6,152.2 333.8,147.4 321.0,149.0 311.4,149.0 300.2,150.6 295.4,157.0 292.2,166.6 285.8,174.6 284.2,184.2 289.0,192.2 297.0,198.6Z"/>
<path fill-rule="evenodd" d="M225.0,184.2 225.0,186.3 220.6,193.6 215.8,200.0 207.8,207.2 210.2,212.8 218.2,212.8 226.2,207.2 234.2,203.5 236.9,197.6 237.9,189.6 241.7,182.4 239.8,176.8 230.2,178.9 227.2,183.1Z"/>
<path fill-rule="evenodd" d="M570.0,212.1 570.0,215.7 577.3,215.2 582.8,212.9 588.3,208.3 593.8,206.5 600.2,206.1 603.4,202.9 600.2,199.7 593.8,199.7 588.3,202.9 582.8,207.4 580.1,203.8 575.5,201.5 570.0,201.0 570.0,202.7 569.2,202.4 559.6,204.0 562.8,210.4 569.2,212.0Z"/>
<path fill-rule="evenodd" d="M597.6,289.2 588.0,283.6 578.4,284.4 572.0,278.8 565.6,273.2 559.2,274.0 556.0,278.0 551.2,272.4 541.6,267.6 530.4,270.0 532.0,280.4 541.6,283.6 551.2,283.6 559.2,284.4 567.2,287.6 576.8,291.6 584.8,298.8 594.4,302.0 600.0,298.0Z"/>
</g>
<g fill="#86ff78" filter="url(#b1)">
<path fill-rule="evenodd" d="M570.2,210.9 570.3,210.9 570.5,210.9 570.6,211.0 570.7,211.0 570.8,211.1 570.9,211.2 571.0,211.3 571.1,211.4 571.1,211.5 571.2,211.6 571.2,211.7 571.3,211.9 571.3,212.0 571.3,212.1 571.3,214.3 577.0,213.9 582.1,211.8 587.5,207.3 587.6,207.3 587.7,207.2 587.8,207.2 587.9,207.1 593.4,205.3 593.5,205.3 593.6,205.2 593.7,205.2 599.6,204.8 601.5,202.9 599.6,201.0 594.1,201.0 589.0,203.9 583.6,208.4 583.5,208.5 583.4,208.6 583.3,208.6 583.2,208.7 583.1,208.7 583.0,208.7 582.8,208.7 582.7,208.7 582.6,208.7 582.5,208.7 582.3,208.6 582.2,208.6 582.1,208.5 582.0,208.5 581.9,208.4 581.8,208.3 581.8,208.2 579.2,204.8 575.1,202.8 571.3,202.4 571.3,202.7 571.3,202.8 571.3,202.9 571.2,203.0 571.2,203.2 571.1,203.3 571.1,203.4 571.0,203.5 570.9,203.6 570.8,203.7 570.7,203.8 570.6,203.8 570.5,203.9 570.4,203.9 570.2,203.9 570.1,204.0 570.0,204.0 569.8,204.0 569.7,203.9 569.6,203.9 569.1,203.7 561.5,205.0 563.7,209.3 569.5,210.7Z"/>
<path fill-rule="evenodd" d="M596.5,290.1 587.7,284.9 578.5,285.7 578.4,285.7 578.2,285.7 578.1,285.7 578.0,285.6 577.9,285.6 577.8,285.5 577.6,285.5 577.5,285.4 571.1,279.8 565.2,274.6 559.9,275.2 557.0,278.8 556.9,278.9 556.8,279.0 556.7,279.1 556.6,279.1 556.5,279.2 556.4,279.2 556.3,279.3 556.1,279.3 556.0,279.3 555.9,279.3 555.8,279.3 555.6,279.3 555.5,279.2 555.4,279.2 555.3,279.1 555.2,279.0 555.1,278.9 555.0,278.8 550.4,273.4 541.4,269.0 531.9,271.0 533.2,279.4 541.8,282.3 551.2,282.3 551.3,282.3 559.3,283.1 559.4,283.1 559.6,283.2 559.7,283.2 567.7,286.4 567.7,286.4 577.3,290.4 577.4,290.5 577.6,290.5 577.7,290.6 585.5,297.7 594.2,300.6 598.5,297.5Z"/>
<path fill-rule="evenodd" d="M300.0,160.5 299.7,160.9 295.8,170.3 292.6,179.8 290.5,188.4 300.6,194.2 300.7,194.2 300.8,194.3 300.9,194.4 301.0,194.5 301.1,194.6 301.2,194.7 301.2,194.8 301.2,194.9 301.3,195.0 301.3,195.2 301.3,195.3 301.3,203.9 306.7,205.9 319.3,207.5 338.3,207.5 352.7,205.9 367.1,204.3 367.2,204.3 367.3,204.3 367.4,204.3 367.5,204.3 367.7,204.4 367.8,204.4 380.4,210.8 396.1,213.9 427.9,210.7 428.0,210.7 438.7,210.7 438.7,210.4 438.7,210.2 438.7,210.1 438.8,210.0 438.8,209.9 438.9,209.7 438.9,209.6 439.0,209.5 439.1,209.4 439.2,209.4 439.3,209.3 439.4,209.2 439.5,209.2 439.6,209.1 439.7,209.1 439.9,209.1 441.4,208.9 454.1,205.7 454.2,205.7 454.3,205.7 470.3,204.9 470.5,204.9 486.5,205.7 486.6,205.7 486.7,205.7 502.7,208.9 502.8,208.9 502.9,209.0 515.6,213.8 528.2,216.9 540.2,218.5 540.3,218.5 540.4,218.6 540.5,218.6 540.6,218.7 540.7,218.7 540.8,218.8 540.9,218.9 541.0,219.0 541.1,219.1 541.2,219.2 541.2,219.3 541.2,219.4 541.3,219.6 541.3,219.7 541.3,219.8 541.3,220.7 545.6,222.0 545.7,222.0 545.8,222.0 545.9,222.1 553.7,226.8 560.5,228.1 562.9,223.3 558.7,217.8 549.5,213.2 541.3,209.7 541.3,210.2 541.3,210.3 541.3,210.5 541.2,210.6 541.2,210.7 541.1,210.8 541.1,210.9 541.0,211.0 540.9,211.1 540.8,211.2 540.7,211.3 540.6,211.3 540.5,211.4 540.4,211.4 540.3,211.5 540.1,211.5 540.0,211.5 539.9,211.5 539.8,211.5 539.6,211.4 539.5,211.4 539.4,211.4 524.2,203.4 511.6,197.0 495.8,193.9 483.0,192.3 468.7,190.7 468.5,190.7 468.4,190.6 468.3,190.6 468.2,190.5 468.0,190.5 456.8,182.5 456.8,182.4 456.7,182.3 445.5,171.2 441.3,167.8 441.3,171.5 441.3,171.6 441.3,171.8 441.2,171.9 441.2,172.0 441.1,172.1 441.1,172.2 441.0,172.3 440.9,172.4 440.8,172.5 440.7,172.6 440.6,172.7 440.5,172.7 440.4,172.8 440.3,172.8 440.1,172.8 440.0,172.8 439.9,172.8 439.8,172.8 439.6,172.8 439.5,172.7 439.4,172.7 439.3,172.6 427.4,165.2 415.1,159.8 403.2,163.5 397.1,172.7 397.0,172.8 396.9,172.9 396.8,173.0 390.4,177.8 390.3,177.9 390.2,178.0 390.1,178.0 389.9,178.1 389.8,178.1 389.7,178.1 389.6,178.1 389.4,178.1 389.3,178.1 389.2,178.0 379.6,174.8 379.5,174.8 379.4,174.7 379.3,174.7 379.2,174.6 369.6,166.6 360.2,158.8 347.8,154.9 328.9,155.7 313.0,157.3 300.3,160.5 300.2,160.5 300.1,160.5Z"/>
<path fill-rule="evenodd" d="M226.3,185.0 226.3,186.3 226.3,186.4 226.3,186.5 226.3,186.6 226.2,186.7 226.2,186.8 226.1,186.9 221.7,194.3 221.6,194.4 216.8,200.8 216.8,200.9 216.7,201.0 209.4,207.5 211.1,211.5 217.8,211.5 225.5,206.1 225.6,206.1 225.7,206.0 233.2,202.5 235.7,197.2 236.6,189.4 236.6,189.3 236.6,189.2 236.7,189.1 236.7,189.0 240.3,182.3 238.9,178.3 231.0,180.0 228.2,183.9 228.2,184.0 228.1,184.1 228.0,184.1 227.9,184.2 227.8,184.3Z"/>
</g>
<g fill="#36f4d0" stroke="#36f4d0" stroke-width="4.4" stroke-linejoin="round" filter="url(#b2)">
<path fill-rule="evenodd" d="M335.2,204.0 351.2,202.4 367.2,200.8 380.0,207.2 396.0,210.4 412.0,208.8 428.0,207.2 440.0,207.2 440.0,176.0 429.6,168.8 415.2,164.0 404.0,168.8 399.2,180.0 389.6,183.2 376.8,180.0 367.2,172.0 357.6,164.0 344.8,159.2 328.8,160.8 316.0,165.6 306.4,172.0 303.2,188.0 306.4,199.2 319.2,204.0Z"/>
<path fill-rule="evenodd" d="M460.8,199.0 464.0,194.2 454.4,186.2 443.2,175.0 440.0,172.9 440.0,205.8 441.6,205.4 451.2,202.2Z"/>
</g>
<g fill="#36f4d0" filter="url(#b1)">
<path fill-rule="evenodd" d="M219.8,201.6 225.1,205.1 230.5,203.5 233.4,198.4 233.1,190.4 228.3,188.8 224.6,193.6Z"/>
<path fill-rule="evenodd" d="M554.8,225.6 559.6,222.4 557.2,217.6 550.0,218.4 550.0,223.2Z"/>
<path fill-rule="evenodd" d="M540.0,270.0 532.8,271.6 535.2,278.8 543.2,281.2 551.2,281.2 552.8,278.0 548.0,273.2Z"/>
<path fill-rule="evenodd" d="M564.8,282.0 570.4,286.0 572.8,283.6 568.0,277.2 562.4,276.4Z"/>
<path fill-rule="evenodd" d="M581.6,289.2 584.8,296.4 591.2,299.6 596.0,297.2 595.2,290.8 588.0,286.8Z"/>
<path fill-rule="evenodd" d="M483.2,202.8 496.0,204.8 508.8,208.9 521.6,214.2 526.4,213.4 521.6,209.9 508.8,203.8 496.0,200.3 483.2,197.9 470.4,196.3 460.8,195.5 460.8,199.6 470.4,201.2Z"/>
<path fill-rule="evenodd" d="M574.6,211.5 575.9,208.3 573.7,205.1 570.0,204.7 570.0,212.0Z"/>
</g>
<g fill="#10e4ff" filter="url(#b2)">
<path fill-rule="evenodd" d="M335.2,204.0 351.2,202.4 367.2,200.8 380.0,207.2 396.0,210.4 412.0,208.8 428.0,207.2 440.0,207.2 440.0,176.0 429.6,168.8 415.2,164.0 404.0,168.8 399.2,180.0 389.6,183.2 376.8,180.0 367.2,172.0 357.6,164.0 344.8,159.2 328.8,160.8 316.0,165.6 306.4,172.0 303.2,188.0 306.4,199.2 319.2,204.0Z"/>
<path fill-rule="evenodd" d="M460.8,199.0 464.0,194.2 454.4,186.2 443.2,175.0 440.0,172.9 440.0,205.8 441.6,205.4 451.2,202.2Z"/>
</g>
<g fill="#00a0ff" stroke="#00a0ff" stroke-width="4.4" stroke-linejoin="round" filter="url(#b2)">
<path fill-rule="evenodd" d="M312.8,197.6 322.4,202.4 333.6,200.8 338.4,194.4 351.2,196.0 364.0,196.0 375.2,197.6 383.2,204.0 396.0,205.6 408.8,204.0 418.4,199.2 431.2,201.6 440.0,200.8 440.0,183.5 436.0,178.4 426.4,171.2 415.2,168.8 407.2,173.6 405.6,184.8 399.2,191.2 386.4,191.2 376.8,186.4 367.2,181.6 359.2,175.2 351.2,167.2 338.4,164.0 325.6,167.2 317.6,173.6 320.8,178.4 322.4,184.8 314.4,188.0Z"/>
<path fill-rule="evenodd" d="M448.0,187.8 440.0,179.8 440.0,201.4 441.6,200.6 449.6,192.6Z"/>
</g>
<g fill="#0060ff" filter="url(#b2)">
<path fill-rule="evenodd" d="M312.8,197.6 322.4,202.4 333.6,200.8 338.4,194.4 351.2,196.0 364.0,196.0 375.2,197.6 383.2,204.0 396.0,205.6 408.8,204.0 418.4,199.2 431.2,201.6 440.0,200.8 440.0,183.5 436.0,178.4 426.4,171.2 415.2,168.8 407.2,173.6 405.6,184.8 399.2,191.2 386.4,191.2 376.8,186.4 367.2,181.6 359.2,175.2 351.2,167.2 338.4,164.0 325.6,167.2 317.6,173.6 320.8,178.4 322.4,184.8 314.4,188.0Z"/>
<path fill-rule="evenodd" d="M448.0,187.8 440.0,179.8 440.0,201.4 441.6,200.6 449.6,192.6Z"/>
</g>
<g fill="#0018ff" stroke="#0018ff" stroke-width="4.0" stroke-linejoin="round" filter="url(#b1)">
<path fill-rule="evenodd" d="M348.0,178.4 340.0,174.4 332.0,176.8 335.2,184.0 343.2,185.6 349.6,183.2Z"/>
<path fill-rule="evenodd" d="M428.0,184.8 423.2,178.4 415.2,180.0 415.2,184.8 420.0,188.0 426.4,188.8Z"/>
</g>
<g fill="#0018ff" filter="url(#b1)">
<path fill-rule="evenodd" d="M344.8,189.6 354.4,192.8 364.0,191.2 367.2,186.4 357.6,183.2 354.4,176.8 348.0,170.4 336.8,168.0 327.2,172.0 325.6,178.4 328.8,184.8 335.2,189.6Z"/>
<path fill-rule="evenodd" d="M333.6,193.6 324.0,190.4 316.0,192.8 316.0,196.8 322.4,199.2 332.0,197.6Z"/>
<path fill-rule="evenodd" d="M434.4,196.0 437.6,188.0 432.8,178.4 421.6,172.0 408.8,175.2 410.4,186.4 416.8,194.4 424.8,196.0Z"/>
<path fill-rule="evenodd" d="M399.2,196.0 389.6,193.6 381.6,195.2 383.2,200.0 392.8,202.4 402.4,200.8Z"/>
<path fill-rule="evenodd" d="M440.0,186.2 440.0,197.4 441.6,194.2Z"/>
</g>
<g fill="#0000b4" filter="url(#b1)">
<path fill-rule="evenodd" d="M348.0,178.4 340.0,174.4 332.0,176.8 335.2,184.0 343.2,185.6 349.6,183.2Z"/>
<path fill-rule="evenodd" d="M428.0,184.8 423.2,178.4 415.2,180.0 415.2,184.8 420.0,188.0 426.4,188.8Z"/>
</g>
</g>
<g shape-rendering="crispEdges">
<rect x="113" y="100" width="679" height="1" fill="#262626"/>
<rect x="113" y="379" width="679" height="1" fill="#262626"/>
<rect x="113" y="100" width="1" height="280" fill="#262626"/>
<rect x="791" y="100" width="1" height="280" fill="#262626"/>
<rect x="246" y="372" width="1" height="7" fill="#262626"/>
<rect x="246" y="101" width="1" height="7" fill="#262626"/>
<rect x="411" y="372" width="1" height="7" fill="#262626"/>
<rect x="411" y="101" width="1" height="7" fill="#262626"/>
<rect x="577" y="372" width="1" height="7" fill="#262626"/>
<rect x="577" y="101" width="1" height="7" fill="#262626"/>
<rect x="742" y="372" width="1" height="7" fill="#262626"/>
<rect x="742" y="101" width="1" height="7" fill="#262626"/>
<rect x="114" y="170" width="7" height="1" fill="#262626"/>
<rect x="784" y="170" width="7" height="1" fill="#262626"/>
<rect x="114" y="239" width="7" height="1" fill="#262626"/>
<rect x="784" y="239" width="7" height="1" fill="#262626"/>
<rect x="114" y="309" width="7" height="1" fill="#262626"/>
<rect x="784" y="309" width="7" height="1" fill="#262626"/>
</g>
<text x="231.47" y="408.80" font-size="21.63" textLength="30.06" lengthAdjust="spacingAndGlyphs">-65</text>
<text x="382.01" y="408.80" font-size="21.63" textLength="58.98" lengthAdjust="spacingAndGlyphs">-64.95</text>
<text x="552.90" y="408.80" font-size="21.63" textLength="47.41" lengthAdjust="spacingAndGlyphs">-64.9</text>
<text x="713.01" y="408.80" font-size="21.63" textLength="58.98" lengthAdjust="spacingAndGlyphs">-64.85</text>
<text x="53.75" y="108.90" font-size="21.63" textLength="52.05" lengthAdjust="spacingAndGlyphs">18.38</text>
<text x="53.75" y="178.90" font-size="21.63" textLength="52.05" lengthAdjust="spacingAndGlyphs">18.36</text>
<text x="53.75" y="247.90" font-size="21.63" textLength="52.05" lengthAdjust="spacingAndGlyphs">18.34</text>
<text x="53.75" y="317.90" font-size="21.63" textLength="52.05" lengthAdjust="spacingAndGlyphs">18.32</text>
<text x="65.32" y="387.90" font-size="21.63" textLength="40.48" lengthAdjust="spacingAndGlyphs">18.3</text>
<text x="402.70" y="439.80" font-size="22.90" textLength="100.60" lengthAdjust="spacingAndGlyphs">Longitude</text>
<text x="197.40" y="91.70" font-size="22.90" font-weight="bold" style="fill:#000" textLength="512.11" lengthAdjust="spacingAndGlyphs">MAXIMUM AIR TEMPERATURE (C) 16-Oct-2025</text>
<rect x="114" y="463" width="678" height="28" fill="url(#jet)"/>
<g shape-rendering="crispEdges">
<rect x="114" y="463" width="678" height="1" fill="#262626"/>
<rect x="114" y="490" width="678" height="1" fill="#262626"/>
<rect x="114" y="463" width="1" height="28" fill="#262626"/>
<rect x="791" y="463" width="1" height="28" fill="#262626"/>
<rect x="214" y="483" width="1" height="7" fill="#262626"/>
<rect x="321" y="483" width="1" height="7" fill="#262626"/>
<rect x="428" y="483" width="1" height="7" fill="#262626"/>
<rect x="535" y="483" width="1" height="7" fill="#262626"/>
<rect x="642" y="483" width="1" height="7" fill="#262626"/>
<rect x="749" y="483" width="1" height="7" fill="#262626"/>
</g>
<text x="196.05" y="518.30" font-size="19.50" textLength="36.49" lengthAdjust="spacingAndGlyphs">28.5</text>
<text x="310.57" y="518.30" font-size="19.50" textLength="20.86" lengthAdjust="spacingAndGlyphs">29</text>
<text x="411.05" y="518.30" font-size="19.50" textLength="36.49" lengthAdjust="spacingAndGlyphs">29.5</text>
<text x="525.67" y="518.30" font-size="19.50" textLength="20.86" lengthAdjust="spacingAndGlyphs">30</text>
<text x="625.25" y="518.30" font-size="19.50" textLength="36.49" lengthAdjust="spacingAndGlyphs">30.5</text>
<text x="739.87" y="518.30" font-size="19.50" textLength="20.86" lengthAdjust="spacingAndGlyphs">31</text>
</svg></body></html>
